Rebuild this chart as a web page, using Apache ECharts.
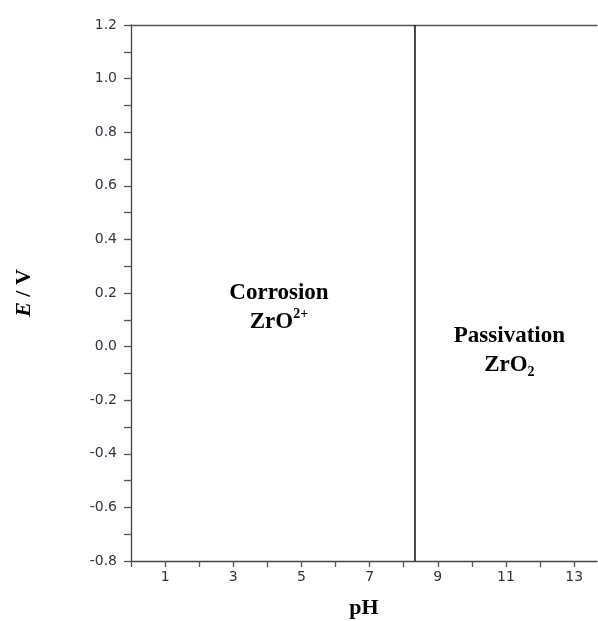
<!DOCTYPE html>
<html>
<head>
<meta charset="utf-8">
<script src="https://cdn.jsdelivr.net/npm/echarts@6/dist/echarts.min.js"></script>
<style>
  html, body { margin: 0; padding: 0; background: #fff; }
  #main { width: 598px; height: 621px; }
</style>
</head>
<body>
<div id="main"></div>
<script>
// axis ranges and labels
var xTickLabels = [1, 3, 5, 7, 9, 11, 13];
var yRange = [-0.8, 1.2];
var xRange = [0, 13.67];

// boundary between the two regions (pH)
var boundaryPH = 8.33;
var boundaryLine = [[boundaryPH, -0.8], [boundaryPH, 1.2]];

// region labels: [pH, E, text]
var regionLabels = [
  [4.34, 0.146, 'Corrosion\n{t|ZrO}{sup|2+}'],
  [11.1, -0.016, 'Passivation\n{t|ZrO}{sub|2}']
];

var myChart = echarts.init(document.getElementById('main'));

var serif = 'Liberation Serif';
var tickColor = '#333344';

var option = {
  backgroundColor: '#fff',
  animation: false,
  grid: { left: 131, right: 1, top: 25, bottom: 60, containLabel: false, outerBoundsMode: 'none' },
  xAxis: [{
    type: 'value',
    min: xRange[0],
    max: xRange[1],
    interval: 1,
    name: 'pH',
    nameLocation: 'middle',
    nameGap: 36,
    nameTextStyle: { fontFamily: serif, fontWeight: 'bold', fontSize: 22, color: '#000' },
    splitLine: { show: false },
    axisLine: { onZero: false, lineStyle: { color: '#444', width: 1.3 } },
    axisTick: { inside: false, length: 6, lineStyle: { color: '#555', width: 1.3 } },
    axisLabel: {
      margin: 9,
      fontFamily: 'DejaVu Sans',
      fontSize: 14,
      color: tickColor,
      showMaxLabel: false,
      formatter: function (v) {
        return xTickLabels.indexOf(v) >= 0 ? String(v) : '';
      }
    }
  }, {
    // top frame line
    type: 'value',
    position: 'top',
    min: xRange[0],
    max: xRange[1],
    axisLine: { show: true, onZero: false, lineStyle: { color: '#555', width: 1.3 } },
    axisTick: { show: false },
    axisLabel: { show: false },
    splitLine: { show: false }
  }],
  yAxis: {
    type: 'value',
    min: yRange[0],
    max: yRange[1],
    interval: 0.1,
    name: '{i|E} / V',
    nameLocation: 'middle',
    nameGap: 96,
    nameRotate: 90,
    nameTextStyle: {
      fontFamily: serif, fontWeight: 'bold', fontSize: 22, color: '#000',
      rich: {
        i: { fontFamily: serif, fontWeight: 'bold', fontStyle: 'italic', fontSize: 22, color: '#000' }
      }
    },
    splitLine: { show: false },
    axisLine: { show: true, onZero: false, lineStyle: { color: '#444', width: 1.3 } },
    axisTick: { inside: false, length: 7, lineStyle: { color: '#555', width: 1.3 } },
    axisLabel: {
      margin: 14,
      fontFamily: 'DejaVu Sans',
      fontSize: 14,
      color: tickColor,
      formatter: function (v) {
        var k = Math.round(v * 10);
        if (k % 2 !== 0) return '';
        return (k / 10).toFixed(1);
      }
    }
  },
  series: [{
    type: 'line',
    data: boundaryLine,
    symbol: 'none',
    lineStyle: { color: '#1a1a1a', width: 1.6 },
    silent: true
  }, {
    type: 'scatter',
    symbolSize: 0,
    itemStyle: { opacity: 1 },
    data: regionLabels.map(function (r) { return { value: [r[0], r[1]], text: r[2] }; }),
    label: {
      show: true,
      position: 'inside',
      align: 'center',
      verticalAlign: 'middle',
      lineHeight: 29,
      fontFamily: serif,
      fontWeight: 'bold',
      fontSize: 23,
      color: '#000',
      opacity: 1,
      formatter: function (p) { return p.data.text; },
      rich: {
        t: { fontFamily: serif, fontWeight: 'bold', fontSize: 23, color: '#000', lineHeight: 29 },
        sup: { fontFamily: serif, fontWeight: 'bold', fontSize: 14, color: '#000', verticalAlign: 'top', padding: [0, 0, 9, 0], lineHeight: 29 },
        sub: { fontFamily: serif, fontWeight: 'bold', fontSize: 14, color: '#000', verticalAlign: 'bottom', padding: [7, 0, 0, 0], lineHeight: 29 }
      }
    },
    silent: true
  }]
};

myChart.setOption(option);
</script>
</body>
</html>
